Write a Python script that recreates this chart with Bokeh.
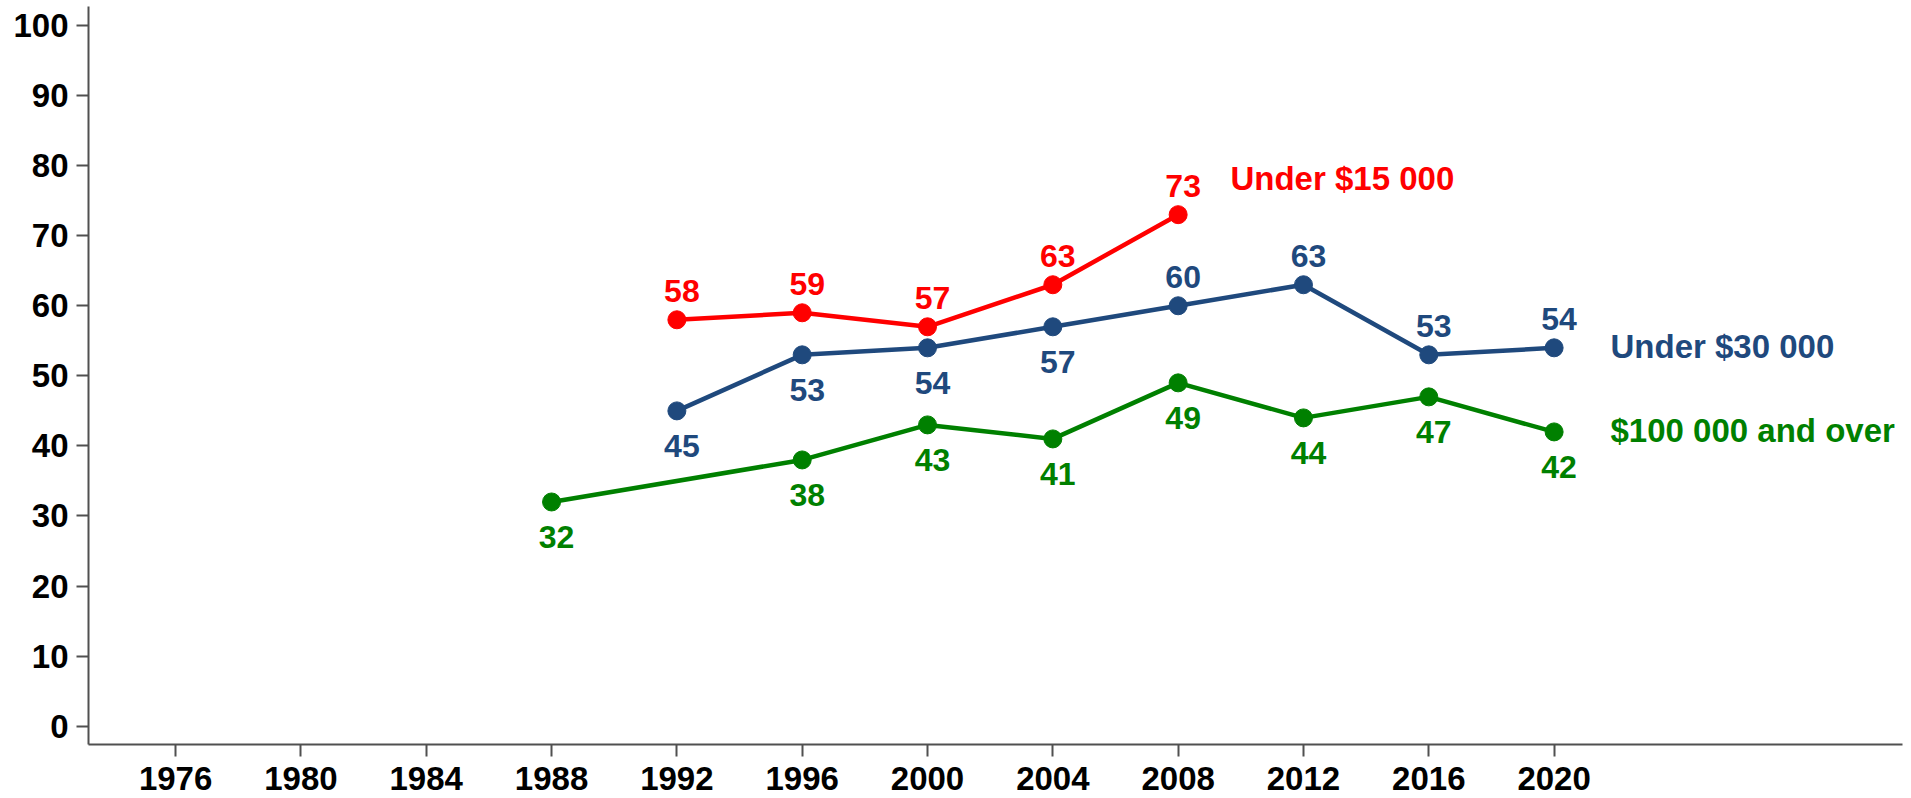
from bokeh.plotting import figure
from bokeh.models import ColumnDataSource, FixedTicker, Range1d
from bokeh.core.properties import value
from bokeh.embed import file_html
from bokeh.resources import INLINE

# ---- data ----
red_years = [1992, 1996, 2000, 2004, 2008]
red_values = [58, 59, 57, 63, 73]
red_name = "Under $15 000"

blue_years = [1992, 1996, 2000, 2004, 2008, 2012, 2016, 2020]
blue_values = [45, 53, 54, 57, 60, 63, 53, 54]
blue_name = "Under $30 000"

green_years = [1988, 1996, 2000, 2004, 2008, 2012, 2016, 2020]
green_values = [32, 38, 43, 41, 49, 44, 47, 42]
green_name = "$100 000 and over"

x_ticks = [1976, 1980, 1984, 1988, 1992, 1996, 2000, 2004, 2008, 2012, 2016, 2020]
y_ticks = [0, 10, 20, 30, 40, 50, 60, 70, 80, 90, 100]

# ---- layout / style ----
red_sides = ["above"] * 5
blue_sides = ["below", "below", "below", "below", "above", "above", "above", "above"]
green_sides = ["below"] * 8

RED = "#FF0000"
BLUE = "#1F497D"
GREEN = "#008000"
AXIS = "#505050"
FONT = "Liberation Sans"

p = figure(width=1911, height=798, output_backend="svg", toolbar_location=None,
           x_range=Range1d(1973.22, 2031.12), y_range=Range1d(-2.61, 102.71),
           min_border_left=88, min_border_right=9, min_border_top=6, min_border_bottom=54)
p.outline_line_color = None
p.xgrid.visible = False
p.ygrid.visible = False
p.background_fill_color = "white"
p.border_fill_color = "white"

for ax, ticks in ((p.xaxis[0], x_ticks), (p.yaxis[0], y_ticks)):
    ax.ticker = FixedTicker(ticks=ticks)
    ax.axis_line_color = AXIS
    ax.axis_line_width = 2
    ax.major_tick_line_color = AXIS
    ax.major_tick_line_width = 2
    ax.major_tick_out = 12
    ax.major_tick_in = 0
    ax.minor_tick_line_color = None
    ax.major_label_text_font = FONT
    ax.major_label_text_font_style = "bold"
    ax.major_label_text_font_size = "33px"
    ax.major_label_text_color = "black"
p.xaxis.major_label_standoff = 10
p.yaxis.major_label_standoff = 8


def draw(years, vals, sides, color, name, name_x, name_y):
    src = ColumnDataSource(dict(
        x=years, y=vals, t=[str(v) for v in vals],
        yo=[-29 if s == "above" else 35 for s in sides],
    ))
    p.line("x", "y", source=src, line_color=color, line_width=4.5)
    p.scatter("x", "y", source=src, size=18, fill_color=color, line_color=color)
    p.text("x", "y", text="t", source=src, x_offset=5, y_offset="yo",
           text_align="center", text_baseline="alphabetic",
           text_font=value(FONT), text_font_style="bold",
           text_font_size="32px", text_color=color)
    p.text(x=[name_x], y=[name_y], text=[name], y_offset=-1,
           text_align="left", text_baseline="alphabetic",
           text_font=value(FONT), text_font_style="bold",
           text_font_size="33px", text_color=color)


draw(red_years, red_values, red_sides, RED, red_name, 2009.67, 78)
draw(blue_years, blue_values, blue_sides, BLUE, blue_name, 2021.8, blue_values[-1])
draw(green_years, green_values, green_sides, GREEN, green_name, 2021.8, green_values[-1])

open("out.html", "w").write(file_html(p, INLINE))
